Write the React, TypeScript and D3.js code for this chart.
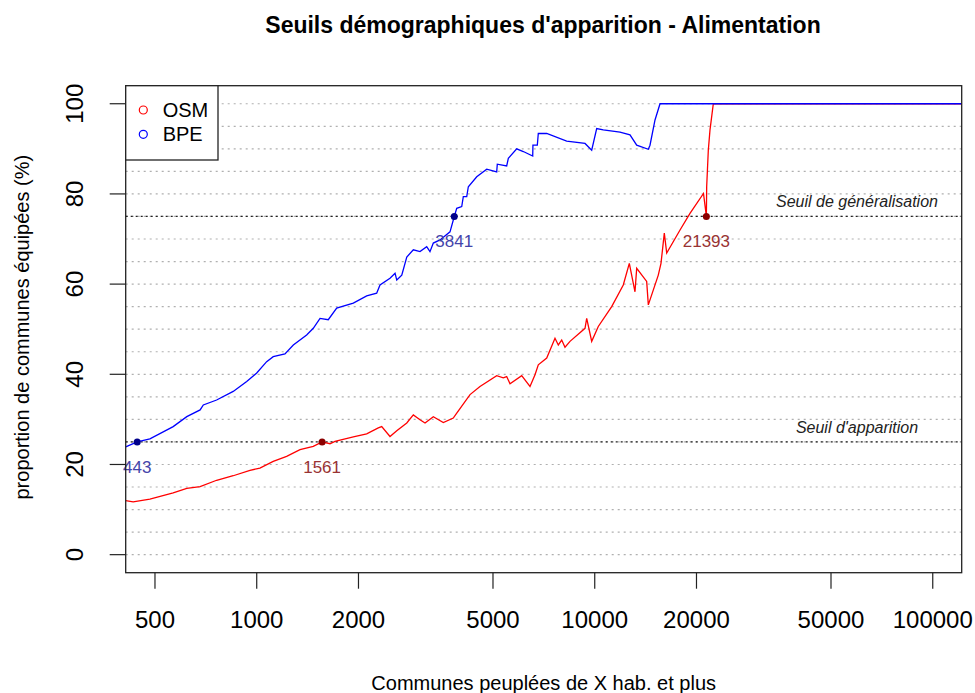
import React from 'react';
import * as d3 from 'd3';

const WIDTH = 975;
const HEIGHT = 693;
const PLOT = { left: 125.7, right: 961.7, top: 85.7, bottom: 572.7 };

// BPE series (population threshold, % of communes equipped)
const bpePop = [
    409.6, 443, 483, 566, 621, 680, 695, 761, 852, 934, 1000, 1070, 1119, 1212, 1283, 1405,
    1470, 1539, 1628, 1724, 1931, 2115, 2264, 2316, 2479, 2566, 2596, 2686, 2779, 2906, 3041,
    3183, 3255, 3330, 3485, 3731, 3841, 3906, 4041, 4085, 4181, 4227, 4476, 4791, 5128, 5149,
    5489, 5551, 5877, 6147, 6554, 6564, 6762, 6808, 7210, 8260, 9359, 9795, 10134, 10600,
    11876, 12715, 13309, 14405, 14571, 15077, 15600, 121800,
];
const bpeVal = [
    23.9, 25.0, 25.7, 28.4, 30.6, 32.1, 33.2, 34.3, 36.2, 38.4, 40.3, 42.8, 43.9, 44.5, 46.5, 48.7,
    50.2, 52.4, 52.1, 54.7, 55.8, 57.4, 58.0, 59.8, 61.3, 62.4, 60.9, 62.0, 66.0, 67.6, 67.2,
    68.3, 67.2, 69.1, 69.8, 71.6, 75.0, 76.8, 77.2, 79.4, 79.4, 81.6, 83.8, 85.5, 84.9, 86.6,
    86.2, 87.9, 90.0, 89.4, 88.4, 90.8, 90.8, 93.4, 93.4, 91.7, 91.2, 89.7, 94.5, 94.2,
    93.7, 93.1, 90.8, 89.9, 90.8, 96.4, 100, 100,
];

// OSM series
const osmPop = [
    409.6, 431, 483, 566, 621, 680, 761, 852, 955, 1022, 1119, 1226, 1343, 1470, 1561, 1647,
    1704, 1931, 2115, 2289, 2343, 2479, 2596, 2779, 2906, 3041, 3147, 3330, 3565, 3815, 3906,
    4276, 4576, 5128, 5364, 5489, 5615, 6080, 6434, 6657, 6808, 7210, 7628, 7802, 7985, 8166,
    8449, 9359, 9467, 9795, 10245, 11224, 12146, 12656, 13155, 13309, 14245, 14405, 15417,
    15704, 16063, 16328, 17879, 19134, 20978, 21393, 21437, 21677, 21928, 22429, 121800,
];
const osmVal = [
    12.0, 11.7, 12.3, 13.7, 14.7, 15.1, 16.5, 17.5, 18.7, 19.2, 20.7, 21.8, 23.3, 24.0, 25.0, 24.6,
    25.1, 26.1, 26.8, 28.1, 28.4, 26.2, 27.5, 29.2, 31.0, 29.9, 29.2, 30.6, 29.3, 30.3, 31.4,
    35.5, 37.3, 39.7, 39.2, 39.5, 37.9, 39.7, 37.3, 39.9, 42.1, 43.6, 48.0, 46.5, 47.6, 46.0,
    47.3, 50.2, 52.4, 47.3, 50.6, 55.0, 59.8, 64.6, 58.3, 63.5, 60.6, 55.4, 62.0,
    64.6, 71.3, 66.9, 72.0, 75.7, 80.1, 75.0, 81.6, 89.7, 94.2, 100, 100,
];

const thresholds = [25, 75];
const thresholdLabels = ["Seuil d'apparition", 'Seuil de généralisation'];
const bpeMarks = [443, 3841];
const osmMarks = [1561, 21393];

const xTicks = [500, 1000, 2000, 5000, 10000, 20000, 50000, 100000];
const yTicks = [0, 20, 40, 60, 80, 100];
const gridLevels = d3.range(0, 101, 5);

const FONT = 'Liberation Sans, Arial, sans-serif';

const App = () => {
    const xScale = d3.scaleLog().domain([409.6, 121800]).range([PLOT.left, PLOT.right]);
    const yScale = d3.scaleLinear().domain([-4, 104]).range([PLOT.bottom, PLOT.top]);

    const makePath = (pops: number[], vals: number[]) => {
        const pts: [number, number][] = pops.map((p, i) => [xScale(p), yScale(vals[i])]);
        return d3.line()(pts) || '';
    };

    const osmPath = makePath(osmPop, osmVal);
    const bpePath = makePath(bpePop, bpeVal);

    const midX = (PLOT.left + PLOT.right) / 2;
    const midY = (PLOT.top + PLOT.bottom) / 2;

    return (
        <svg
            width={WIDTH}
            height={HEIGHT}
            style={{ position: 'absolute', left: 0, top: 0, background: '#fff' }}
            fontFamily={FONT}
        >
            <defs>
                <clipPath id="plot-clip">
                    <rect
                        x={PLOT.left}
                        y={PLOT.top}
                        width={PLOT.right - PLOT.left}
                        height={PLOT.bottom - PLOT.top}
                    />
                </clipPath>
            </defs>

            {/* grid */}
            {gridLevels.map((g) => (
                <line
                    key={g}
                    x1={PLOT.left}
                    x2={PLOT.right}
                    y1={yScale(g)}
                    y2={yScale(g)}
                    stroke="#b0b0b0"
                    strokeWidth={1.2}
                    strokeDasharray="2,4"
                />
            ))}
            {thresholds.map((t) => (
                <line
                    key={t}
                    x1={PLOT.left}
                    x2={PLOT.right}
                    y1={yScale(t)}
                    y2={yScale(t)}
                    stroke="#222"
                    strokeWidth={1.3}
                    strokeDasharray="2,3"
                />
            ))}
            {thresholds.map((t, i) => (
                <text
                    key={'tl' + t}
                    x={857}
                    y={yScale(t) - 9}
                    textAnchor="middle"
                    fontSize={16}
                    fontStyle="italic"
                    fill="#222"
                >
                    {thresholdLabels[i]}
                </text>
            ))}

            <g clipPath="url(#plot-clip)">
                <path d={osmPath} fill="none" stroke="#ff0000" strokeWidth={1.3} />
                <path d={bpePath} fill="none" stroke="#0000ff" strokeWidth={1.3} />
            </g>

            {/* threshold points */}
            {bpeMarks.map((p, i) => (
                <g key={'b' + p}>
                    <circle cx={xScale(p)} cy={yScale(thresholds[i])} r={3.5} fill="#00008b" />
                    <text
                        x={xScale(p)}
                        y={yScale(thresholds[i]) + 31}
                        textAnchor="middle"
                        fontSize={17}
                        fill="#4444aa"
                    >
                        {p}
                    </text>
                </g>
            ))}
            {osmMarks.map((p, i) => (
                <g key={'o' + p}>
                    <circle cx={xScale(p)} cy={yScale(thresholds[i])} r={3.5} fill="#8b0000" />
                    <text
                        x={xScale(p)}
                        y={yScale(thresholds[i]) + 31}
                        textAnchor="middle"
                        fontSize={17}
                        fill="#993333"
                    >
                        {p}
                    </text>
                </g>
            ))}

            {/* frame */}
            <rect
                x={PLOT.left}
                y={PLOT.top}
                width={PLOT.right - PLOT.left}
                height={PLOT.bottom - PLOT.top}
                fill="none"
                stroke="#222"
                strokeWidth={1.3}
            />

            {/* x axis */}
            {xTicks.map((t) => (
                <g key={'x' + t}>
                    <line
                        x1={xScale(t)}
                        x2={xScale(t)}
                        y1={PLOT.bottom}
                        y2={PLOT.bottom + 16}
                        stroke="#222"
                        strokeWidth={1.2}
                    />
                    <text x={xScale(t)} y={628} textAnchor="middle" fontSize={24} fill="#000">
                        {t}
                    </text>
                </g>
            ))}

            {/* y axis */}
            {yTicks.map((t) => (
                <g key={'y' + t}>
                    <line
                        x1={PLOT.left}
                        x2={PLOT.left - 16}
                        y1={yScale(t)}
                        y2={yScale(t)}
                        stroke="#222"
                        strokeWidth={1.2}
                    />
                    <text
                        transform={`translate(83,${yScale(t)}) rotate(-90)`}
                        textAnchor="middle"
                        fontSize={24}
                        fill="#000"
                    >
                        {t}
                    </text>
                </g>
            ))}

            {/* legend */}
            <rect x={PLOT.left} y={PLOT.top} width={92.3} height={74.3} fill="#fff" stroke="#222" strokeWidth={1.3} />
            <circle cx={143.3} cy={110} r={4} fill="none" stroke="#ff0000" strokeWidth={1.2} />
            <text x={162.7} y={117} fontSize={20} fill="#000">OSM</text>
            <circle cx={143.3} cy={134.3} r={4} fill="none" stroke="#0000ff" strokeWidth={1.2} />
            <text x={162.7} y={141.3} fontSize={20} fill="#000">BPE</text>

            {/* titles */}
            <text x={543} y={33} textAnchor="middle" fontSize={23} fontWeight="bold" fill="#000">
                Seuils démographiques d'apparition - Alimentation
            </text>
            <text x={midX} y={690} textAnchor="middle" fontSize={20} fill="#000">
                Communes peuplées de X hab. et plus
            </text>
            <text
                transform={`translate(29,${midY - 2}) rotate(-90)`}
                textAnchor="middle"
                fontSize={20}
                fill="#000"
            >
                proportion de communes équipées (%)
            </text>
        </svg>
    );
};

export default App;
